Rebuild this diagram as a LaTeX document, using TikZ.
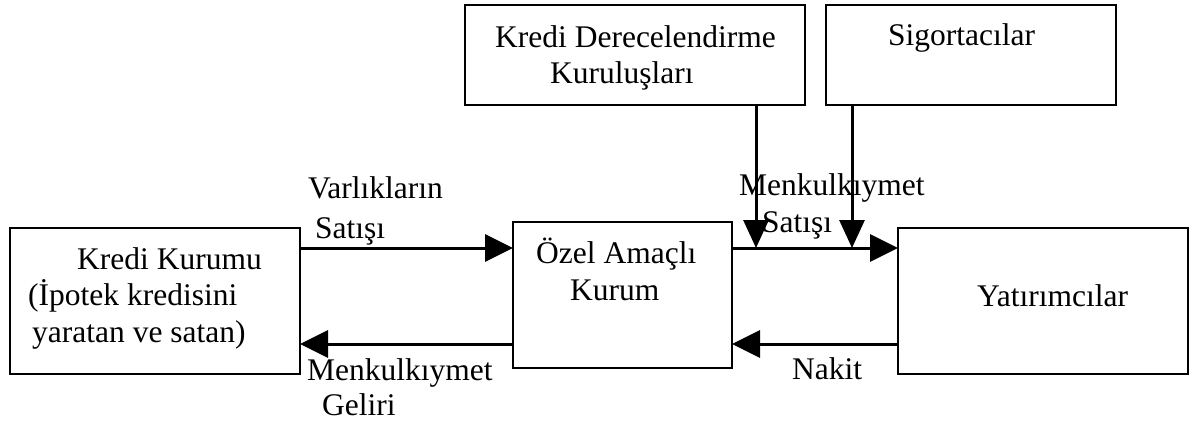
\documentclass[tikz,border=0pt]{standalone}
\usepackage{fontspec}
\setmainfont{Liberation Serif}
\usetikzlibrary{arrows.meta}
\begin{document}
\begin{tikzpicture}[x=1pt,y=-1pt,
  box/.style={draw,rectangle,line width=2.6pt,inner sep=0pt,outer sep=0pt},
  arr/.style={line width=3pt,-{Triangle[length=28pt,width=27pt]}},
  vline/.style={line width=3pt,-{Triangle[length=28pt,width=25pt]}},
  txt/.style={anchor=base west,inner sep=0pt,font=\fontsize{31.5}{36}\selectfont}]
\useasboundingbox (0,0) rectangle (1191,423);

% boxes
\node[box,minimum width=290pt,minimum height=146pt] (kk) at (155,301) {};
\node[box,minimum width=219pt,minimum height=146pt] (oz) at (622.5,295) {};
\node[box,minimum width=290pt,minimum height=146pt] (ya) at (1043,301) {};
\node[box,minimum width=340pt,minimum height=100pt] (kd) at (635,55) {};
\node[box,minimum width=290pt,minimum height=100pt] (si) at (971,55) {};

% box texts
\node[txt] (t1) at (77,269) {Kredi Kurumu};
\node[txt] (t2) at (28,305) {(İpotek kredisini};
\node[txt] (t3) at (32,342) {yaratan ve satan)};
\node[txt] (t4) at (536,263) {Özel Amaçlı};
\node[txt] (t5) at (570,300) {Kurum};
\node[txt] (t6) at (977,306) {Yatırımcılar};
\node[txt] (t7) at (495,47) {Kredi Derecelendirme};
\node[txt] (t8) at (550,83) {Kuruluşları};
\node[txt] (t9) at (888,45) {Sigortacılar};

% connector labels
\node[txt] (l1) at (308,198) {Varlıkların};
\node[txt] (l2) at (315,238) {Satışı};
\node[txt] (l3) at (739,195) {Menkulkıymet};
\node[txt] (l4) at (762,232) {Satışı};
\node[txt] (l5) at (307,380) {Menkulkıymet};
\node[txt] (l6) at (322,415) {Geliri};
\node[txt] (l7) at (792,379) {Nakit};

% connector levels
\coordinate (up) at (0,248);
\coordinate (lo) at (0,344);
\coordinate (j1) at (756,248);
\coordinate (j2) at (852,248);

% connectors
\draw[arr] (kk.east |- up) -- (oz.west |- up);
\draw[arr] (oz.west |- lo) -- (kk.east |- lo);
\draw[arr] (oz.east |- up) -- (ya.west |- up);
\draw[arr] (ya.west |- lo) -- (oz.east |- lo);
\draw[vline] (kd.south -| j1) -- (j1);
\draw[vline] (si.south -| j2) -- (j2);
\end{tikzpicture}
\end{document}
